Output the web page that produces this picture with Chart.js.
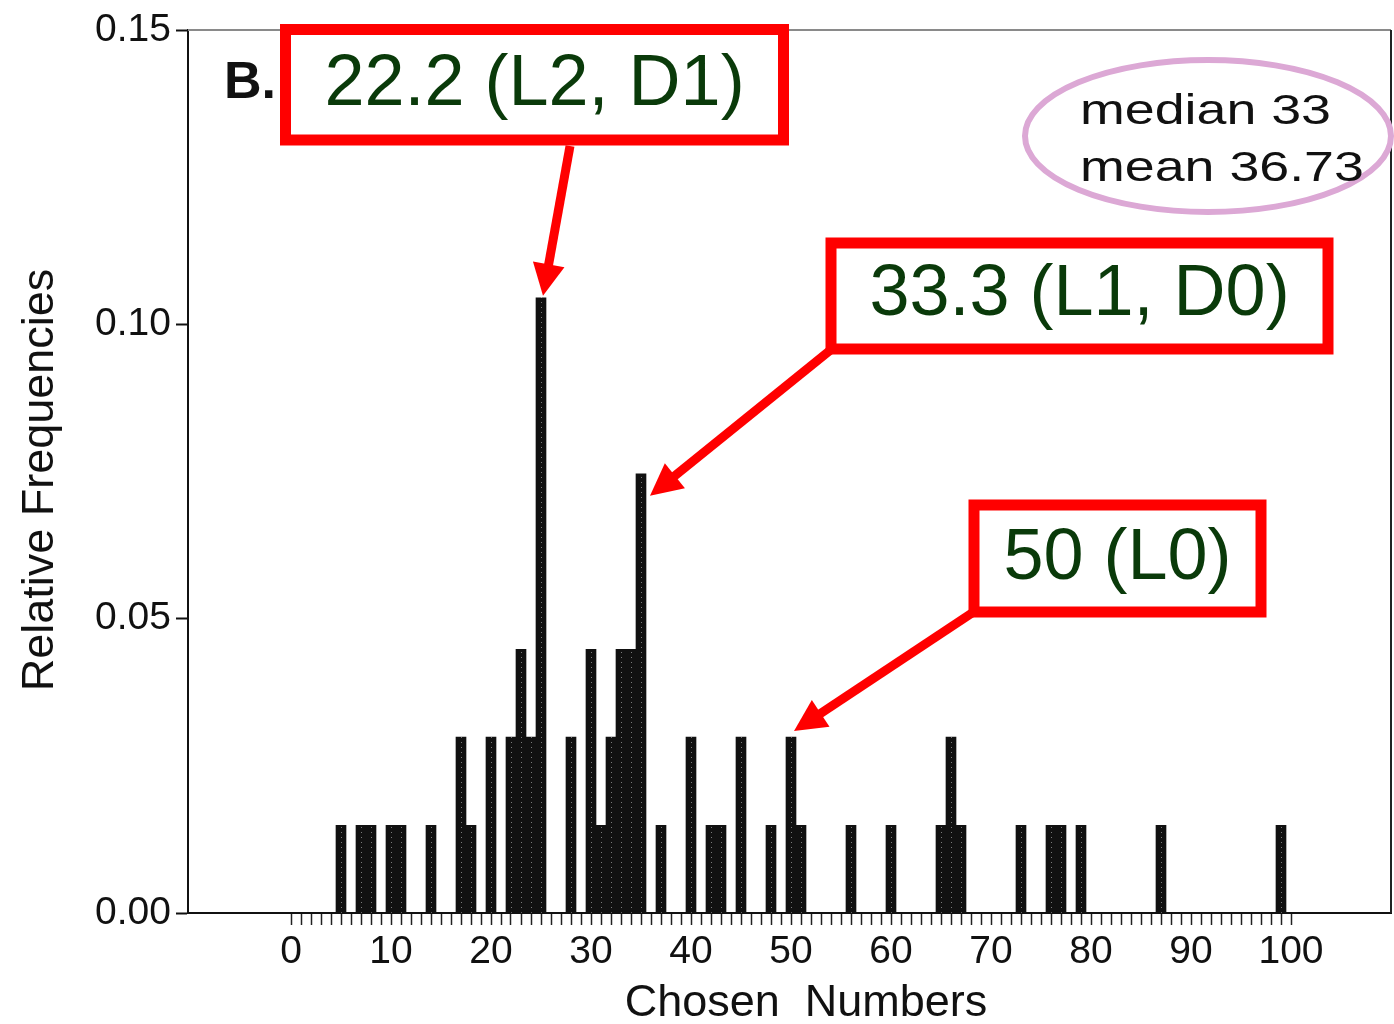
<!DOCTYPE html>
<html>
<head>
<meta charset="utf-8">
<script src="https://cdn.jsdelivr.net/npm/chart.js@4"></script>
<style>
  body { margin: 0; background: #fff; }
  #wrap { width: 1394px; height: 1024px; }
</style>
</head>
<body>
<div id="wrap"><canvas id="guess" width="1394" height="1024"></canvas></div>
<script>
// chosen numbers and their relative frequencies
const chosenNumbers = [5, 7, 8, 10, 11, 14, 17, 18, 20, 22, 23, 24, 25, 28, 30, 31, 32, 33, 34, 35,
  37, 40, 42, 43, 45, 48, 50, 51, 56, 60, 65, 66, 67, 73, 76, 77, 79, 87, 99]
const relFrequencies = [0.0149, 0.0149, 0.0149, 0.0149, 0.0149, 0.0149, 0.0299, 0.0149, 0.0299,
  0.0299, 0.0448, 0.0299, 0.1045, 0.0299, 0.0448, 0.0149, 0.0299, 0.0448, 0.0448, 0.0746,
  0.0149, 0.0299, 0.0149, 0.0149, 0.0299, 0.0149, 0.0299, 0.0149, 0.0149, 0.0149,
  0.0149, 0.0299, 0.0149, 0.0149, 0.0149, 0.0149, 0.0149, 0.0149, 0.0149]
const xTickLabels = [0, 10, 20, 30, 40, 50, 60, 70, 80, 90, 100]
const yTickLabels = ['0.00', '0.05', '0.10', '0.15']

// annotation texts
const peakNotes = ['22.2 (L2, D1)', '33.3 (L1, D0)', '50 (L0)']
const peakTargets = [[25, 0.1045], [35, 0.0746], [50, 0.0299]]
const statLines = ['median 33', 'mean 36.73']
const xTitle = 'Chosen  Numbers'
const yTitle = 'Relative Frequencies'

const RED = '#ff0000'
const GREEN = '#0a3a0a'
const PINK = '#dca8d5'
const FONT = '"Liberation Sans", Arial, sans-serif'

// stippled black fill like the scanned bars
function barPattern() {
  const tile = document.createElement('canvas')
  tile.width = 10
  tile.height = 5
  const t = tile.getContext('2d')
  t.fillStyle = '#111'
  t.fillRect(0, 0, 10, 5)
  t.fillStyle = '#7a7a7a'
  t.fillRect(1, 2, 1, 1)
  return t.createPattern(tile, 'repeat')
}

function drawArrow(ctx, x1, y1, x2, y2) {
  const ang = Math.atan2(y2 - y1, x2 - x1)
  const headLen = 32, headW = 16
  const bx = x2 - headLen * Math.cos(ang)
  const by = y2 - headLen * Math.sin(ang)
  ctx.strokeStyle = RED
  ctx.fillStyle = RED
  ctx.lineWidth = 9
  ctx.lineCap = 'butt'
  ctx.beginPath()
  ctx.moveTo(x1, y1)
  ctx.lineTo(bx + 2 * Math.cos(ang), by + 2 * Math.sin(ang))
  ctx.stroke()
  ctx.beginPath()
  ctx.moveTo(x2, y2)
  ctx.lineTo(bx + headW * Math.sin(ang), by - headW * Math.cos(ang))
  ctx.lineTo(bx - headW * Math.sin(ang), by + headW * Math.cos(ang))
  ctx.closePath()
  ctx.fill()
}

function drawNoteBox(ctx, x1, y1, x2, y2, text, baseline) {
  ctx.fillStyle = '#fff'
  ctx.fillRect(x1, y1, x2 - x1, y2 - y1)
  ctx.strokeStyle = RED
  ctx.lineWidth = 11
  ctx.strokeRect(x1, y1, x2 - x1, y2 - y1)
  ctx.fillStyle = GREEN
  ctx.font = '72px ' + FONT
  ctx.textAlign = 'center'
  ctx.textBaseline = 'alphabetic'
  ctx.fillText(text, (x1 + x2) / 2, baseline)
}

const frame = {
  id: 'frame',
  beforeDatasetsDraw(chart) {
    const {ctx, chartArea: a} = chart
    ctx.save()
    ctx.strokeStyle = '#8a8a8a'
    ctx.lineWidth = 2
    ctx.beginPath()
    ctx.moveTo(a.left, a.top)
    ctx.lineTo(a.right, a.top)
    ctx.stroke()
    ctx.strokeStyle = '#222'
    ctx.beginPath()
    ctx.moveTo(a.right, a.top)
    ctx.lineTo(a.right, a.bottom)
    ctx.stroke()
    ctx.restore()
  },
  afterDraw(chart) {
    const {ctx} = chart
    const xs = chart.scales.x, ys = chart.scales.y
    const px = i => xs.getPixelForValue(peakTargets[i][0])
    const py = i => ys.getPixelForValue(peakTargets[i][1])
    ctx.save()

    // axis titles (placed like the scan, a bit off the plot centre)
    ctx.fillStyle = '#111'
    ctx.font = '45px ' + FONT
    ctx.textAlign = 'center'
    ctx.textBaseline = 'alphabetic'
    ctx.fillText(xTitle, 806, 1016)
    ctx.save()
    ctx.translate(53, 480)
    ctx.rotate(-Math.PI / 2)
    ctx.fillText(yTitle, 0, 0)
    ctx.restore()

    // panel letter
    ctx.font = 'bold 52px ' + FONT
    ctx.textAlign = 'left'
    ctx.fillText('B.', 224, 98)

    // arrows to the peaks
    drawArrow(ctx, 570, 146, px(0) + 2, py(0) - 2)
    drawArrow(ctx, 833, 348, px(1) + 9, py(1) + 22)
    drawArrow(ctx, 975, 611, px(2) + 3, py(2) - 6)

    drawNoteBox(ctx, 285.5, 29.5, 783.5, 140, peakNotes[0], 105)
    drawNoteBox(ctx, 831, 243, 1328, 349, peakNotes[1], 315)
    drawNoteBox(ctx, 974, 505, 1261, 612, peakNotes[2], 579)

    // median / mean ellipse
    ctx.strokeStyle = PINK
    ctx.lineWidth = 6
    ctx.beginPath()
    ctx.ellipse(1208, 136, 183, 76, 0, 0, Math.PI * 2)
    ctx.stroke()
    ctx.fillStyle = '#111'
    ctx.font = '43px ' + FONT
    ctx.textAlign = 'left'
    statLines.forEach((s, i) => {
      ctx.save()
      ctx.translate(1080, 124 + i * 57)
      ctx.scale(1.25, 1)
      ctx.fillText(s, 0, 0)
      ctx.restore()
    })
    ctx.restore()
  }
}

const canvas = document.getElementById('guess')
const ctx = canvas.getContext('2d')

const chart = new Chart(ctx, {
  type: 'bar',
  data: {
    datasets: [{
      data: chosenNumbers.map((n, i) => ({x: n, y: relFrequencies[i]})),
      backgroundColor: barPattern(),
      borderWidth: 0,
      barThickness: 10
    }]
  },
  options: {
    responsive: false,
    animation: false,
    layout: {padding: {left: 0, top: 30, right: 3, bottom: 0}},
    plugins: {legend: {display: false}, tooltip: {enabled: false}},
    scales: {
      x: {
        type: 'linear',
        min: -10.3,
        max: 110,
        offset: false,
        afterFit: s => { s.height = 111 },
        afterBuildTicks: s => { s.ticks = s.ticks.filter(t => t.value >= 0 && t.value <= 100) },
        ticks: {
          stepSize: 1,
          autoSkip: false,
          maxRotation: 0,
          padding: 4,
          color: '#111',
          font: {family: FONT, size: 39},
          callback: v => xTickLabels.includes(v) ? String(v) : ''
        },
        grid: {offset: false, drawOnChartArea: false, tickLength: 12, tickColor: '#222', tickWidth: 1.5},
        border: {color: '#111', width: 2}
      },
      y: {
        min: 0,
        max: 0.15,
        afterFit: s => { s.width = 188 },
        ticks: {
          stepSize: 0.05,
          padding: 5,
          color: '#111',
          font: {family: FONT, size: 39},
          callback: (v, i) => yTickLabels[i]
        },
        grid: {drawOnChartArea: false, tickLength: 12, tickColor: '#111', tickWidth: 2},
        border: {color: '#111', width: 2}
      }
    }
  },
  plugins: [frame]
})
</script>
</body>
</html>
